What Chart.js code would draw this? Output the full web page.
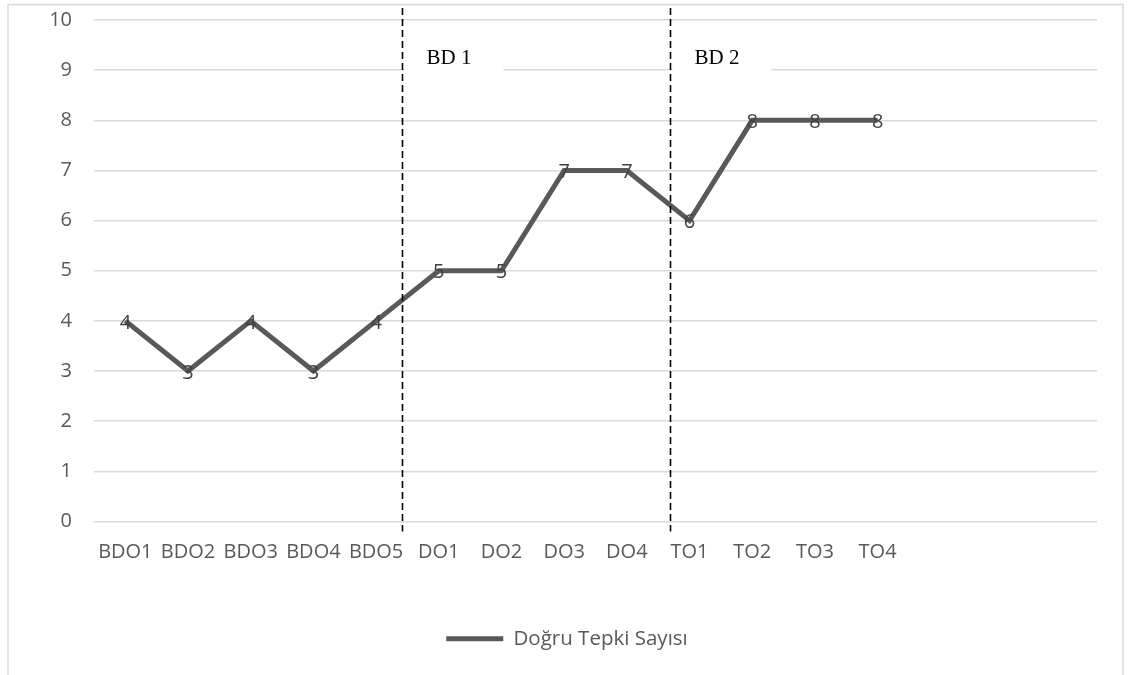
<!DOCTYPE html>
<html>
<head>
<meta charset="utf-8">
<script src="https://cdn.jsdelivr.net/npm/chart.js@4.4.1/dist/chart.umd.min.js"></script>
<style>
  html, body { margin: 0; padding: 0; background: #fff; }
  #wrap { width: 1128px; height: 675px; }
</style>
</head>
<body>
<div id="wrap"><canvas id="chart" width="1128" height="675"></canvas></div>
<script>
// ===== DATA =====
var categories = ["BDO1", "BDO2", "BDO3", "BDO4", "BDO5", "DO1", "DO2", "DO3", "DO4", "TO1", "TO2", "TO3", "TO4", "", "", ""];
var correctResponses = [4, 3, 4, 3, 4, 5, 5, 7, 7, 6, 8, 8, 8, null, null, null];
var yTicks = [0, 1, 2, 3, 4, 5, 6, 7, 8, 9, 10];
var seriesName = "Doğru Tepki Sayısı";

// phase dividers (in category units) and their captions
var phaseDividers = [4.42, 8.69];
var phaseNames = ["BD 1", "BD 2"];

var TEXT_GREY = "#595959";
var FONT = "'Open Sans', 'Noto Sans', sans-serif";

// outer frame + dashed phase lines + captions
var phasePlugin = {
    id: "phases",
    beforeDraw: function(chart) {
        var c = chart.ctx;
        c.save();
        c.strokeStyle = "#d9d9d9";
        c.lineWidth = 1.5;
        c.strokeRect(8, 4.5, 1115, 700);
        c.restore();

        // legend is centred on the whole frame, not on the padded box
        if (chart.legend) {
            var w = chart.legend.right - chart.legend.left;
            chart.legend.left = 567 - w / 2;
            chart.legend.right = 567 + w / 2;
        }
    },
    afterDatasetsDraw: function(chart) {
        var c = chart.ctx;
        var x = chart.scales.x;
        var y = chart.scales.y;
        c.save();
        for (var i = 0; i < phaseDividers.length; i++) {
            var px = Math.round(x.getPixelForValue(phaseDividers[i])) + 0.5;
            // white caption box hides the grid line behind the text
            c.fillStyle = "#fff";
            c.fillRect(px + 2, 38, 99, 50);
            c.fillStyle = "#000";
            c.font = "21px 'Liberation Serif', 'Times New Roman', serif";
            c.textAlign = "left";
            c.textBaseline = "alphabetic";
            c.fillText(phaseNames[i], px + 24, 64);

            c.strokeStyle = "#000";
            c.lineWidth = 1.6;
            c.setLineDash([7, 4]);
            c.beginPath();
            c.moveTo(px, 8);
            c.lineTo(px, y.bottom + 10);
            c.stroke();
            c.setLineDash([]);
        }

        // point labels centred on the points
        var meta = chart.getDatasetMeta(0);
        c.fillStyle = "#404040";
        c.font = "20px " + FONT;
        c.textAlign = "center";
        c.textBaseline = "middle";
        for (var j = 0; j < meta.data.length; j++) {
            var v = correctResponses[j];
            if (v === null) continue;
            var pt = meta.data[j];
            c.fillText(String(v), pt.x, pt.y + 2);
        }
        c.restore();
    }
};

var ctx = document.getElementById("chart");
new Chart(ctx, {
    type: "line",
    data: {
        labels: categories,
        datasets: [{
            label: seriesName,
            data: correctResponses,
            borderColor: "#595959",
            backgroundColor: "#595959",
            borderWidth: 5,
            pointRadius: 0,
            pointHoverRadius: 0,
            tension: 0,
            fill: false
        }]
    },
    options: {
        responsive: false,
        animation: false,
        layout: { padding: { left: 0, right: 31, top: 20, bottom: 16 } },
        plugins: {
            tooltip: { enabled: false },
            legend: {
                position: "bottom",
                labels: {
                    color: TEXT_GREY,
                    font: { family: FONT, size: 20.5 },
                    boxWidth: 57,
                    boxHeight: 5,
                    padding: 10,
                    useBorderRadius: true,
                    borderRadius: 2.5,
                    generateLabels: function(chart) {
                        return [{
                            text: seriesName,
                            fillStyle: "#595959",
                            strokeStyle: "#595959",
                            lineWidth: 0,
                            fontColor: TEXT_GREY,
                            datasetIndex: 0
                        }];
                    }
                }
            }
        },
        scales: {
            x: {
                offset: true,
                grid: { display: false, drawTicks: false, offset: true },
                border: { display: false },
                ticks: {
                    color: TEXT_GREY,
                    font: { family: FONT, size: 20 },
                    padding: 19,
                    maxRotation: 0,
                    autoSkip: false
                },
                afterFit: function(scale) {
                    scale.height = 97;
                    scale.paddingLeft = 0;
                    scale.paddingRight = 0;
                }
            },
            y: {
                min: 0,
                max: 10,
                grid: { color: "#d9d9d9", lineWidth: 1.5, drawTicks: false },
                border: { display: false },
                afterBuildTicks: function(scale) {
                    scale.ticks = yTicks.map(function(t) { return { value: t }; });
                },
                ticks: {
                    color: TEXT_GREY,
                    font: { family: FONT, size: 20 },
                    padding: 22
                },
                afterFit: function(scale) {
                    scale.width = 94;
                    scale.paddingTop = 0;
                    scale.paddingBottom = 0;
                }
            }
        }
    },
    plugins: [phasePlugin]
});
</script>
</body>
</html>
